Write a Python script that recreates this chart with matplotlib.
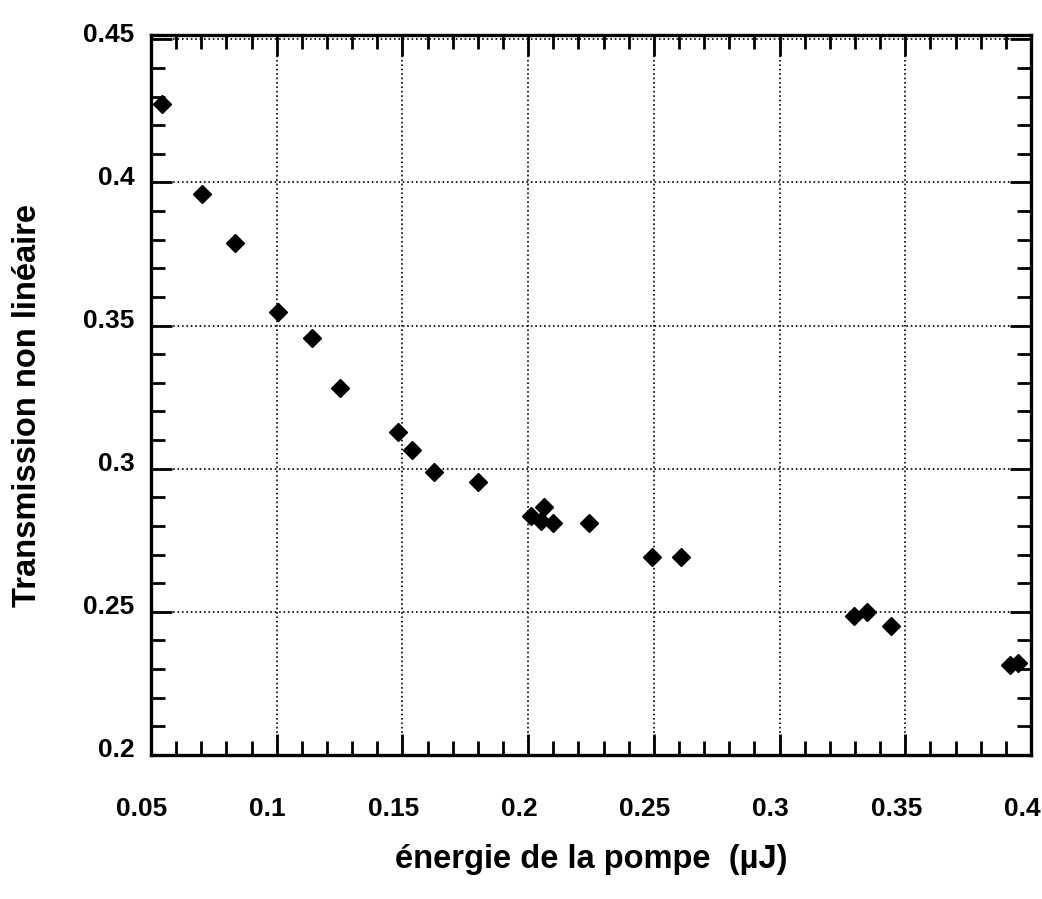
import numpy as np
import matplotlib
matplotlib.use("Agg")
import matplotlib.pyplot as plt
import matplotlib.transforms as mtransforms
from matplotlib.ticker import MultipleLocator

# energie de la pompe (uJ) / transmission non lineaire
energie = [0.0544, 0.0703, 0.0834, 0.1005, 0.1140, 0.1252, 0.1483, 0.1538,
           0.1626, 0.1800, 0.2012, 0.2051, 0.2063, 0.2099, 0.2242, 0.2493,
           0.2608, 0.3296, 0.3348, 0.3444, 0.3917, 0.3949]
transmission = [0.4274, 0.3958, 0.3790, 0.3549, 0.3455, 0.3283, 0.3129, 0.3066,
                0.2990, 0.2955, 0.2836, 0.2818, 0.2867, 0.2811, 0.2811, 0.2692,
                0.2692, 0.2486, 0.2500, 0.2451, 0.2315, 0.2322]

xticks = [0.05, 0.1, 0.15, 0.2, 0.25, 0.3, 0.35, 0.4]
xticklabels = ["0.05", "0.1", "0.15", "0.2", "0.25", "0.3", "0.35", "0.4"]
yticks = [0.2, 0.25, 0.3, 0.35, 0.4, 0.45]
yticklabels = ["0.2", "0.25", "0.3", "0.35", "0.4", "0.45"]

plt.rcParams['font.family'] = ['Liberation Sans', 'DejaVu Sans']
plt.rcParams['font.weight'] = 'bold'

fig = plt.figure(figsize=(10.42, 8.99), dpi=100)
ax = fig.add_axes([0.1449, 0.1602, 0.8445, 0.8009])

ax.plot(energie, transmission, linestyle='none', marker='D', markersize=9,
        color='black')

ax.set_xlim(0.05, 0.4)
ax.set_ylim(0.2, 0.4515)
ax.set_xticks(xticks)
ax.set_xticklabels(xticklabels, fontsize=19, fontweight='bold')
ax.set_yticks(yticks)
ax.set_yticklabels(yticklabels, fontsize=19, fontweight='bold')
ax.xaxis.set_minor_locator(MultipleLocator(0.01))
ax.yaxis.set_minor_locator(MultipleLocator(0.01))

ax.tick_params(which='both', direction='in', top=True, right=True, width=2,
               color='black')
ax.tick_params(which='major', length=15)
ax.tick_params(which='minor', length=10)
ax.tick_params(axis='x', which='major', pad=30)
ax.tick_params(axis='y', which='major', pad=12)

# shift tick labels a little, like the original
for lab in ax.get_xticklabels():
    lab.set_transform(lab.get_transform() +
                      mtransforms.ScaledTranslation(-9/100, 0, fig.dpi_scale_trans))
for lab in ax.get_yticklabels():
    lab.set_transform(lab.get_transform() +
                      mtransforms.ScaledTranslation(0, 7/100, fig.dpi_scale_trans))

for sp in ax.spines.values():
    sp.set_linewidth(2.4)

ax.grid(True, which='major', linestyle=':', linewidth=1.2, color='black')

ax.set_xlabel("énergie de la pompe  (µJ)", fontsize=23.5, fontweight='bold',
              labelpad=17)
ax.set_ylabel("Transmission non linéaire", fontsize=23.5, fontweight='bold',
              labelpad=29)
ax.yaxis.label.set_y(0.486)

fig.savefig("out.png", dpi=100)
